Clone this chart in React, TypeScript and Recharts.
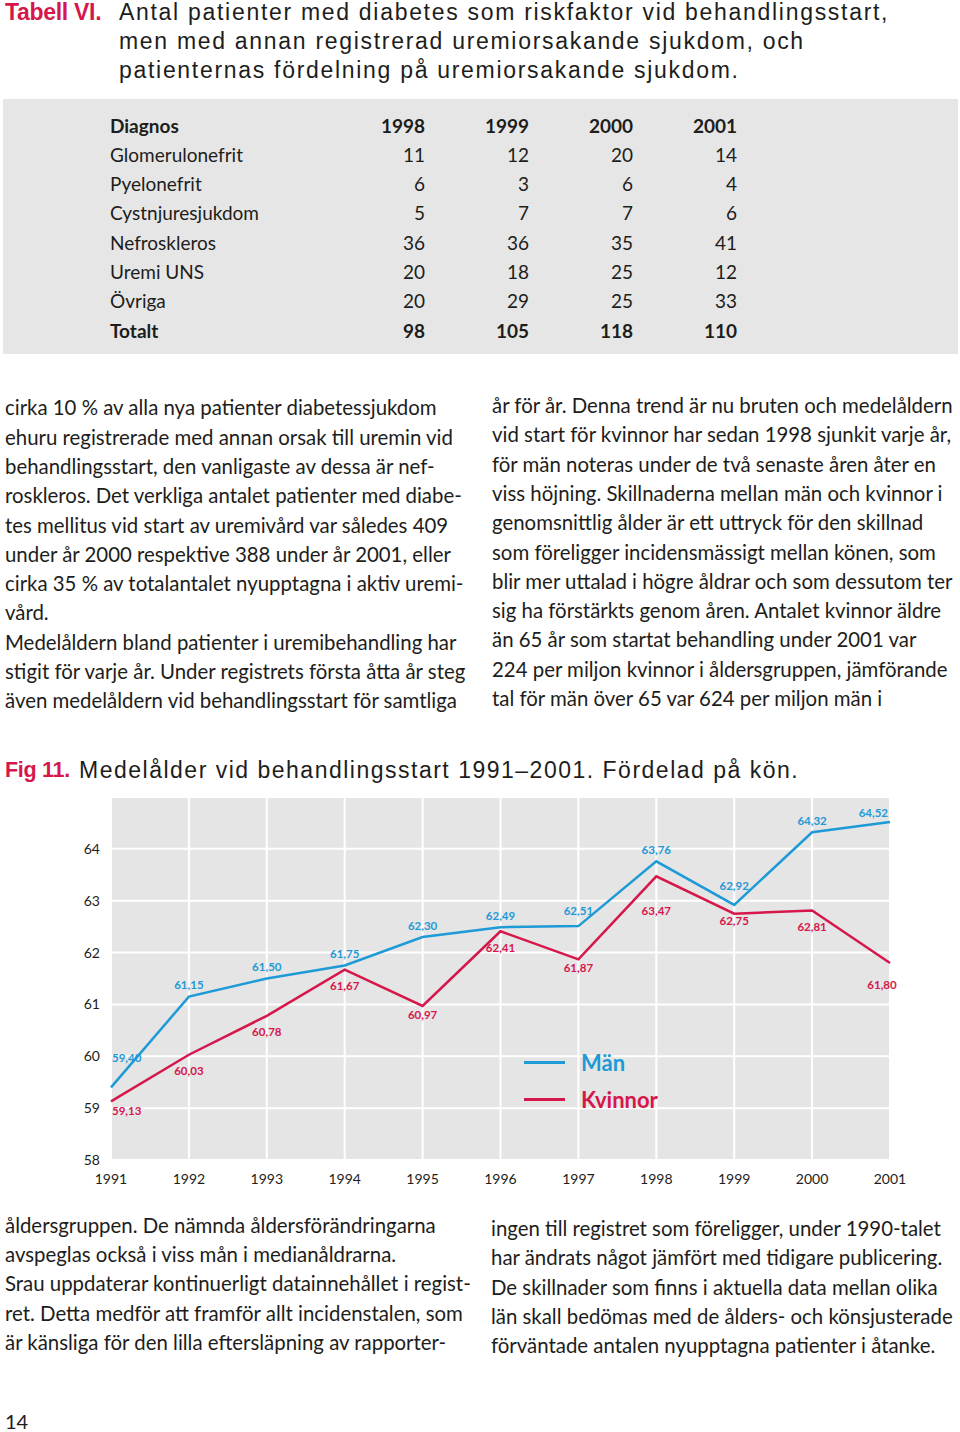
import React from 'react';
import { LineChart, Line, XAxis, YAxis, CartesianGrid, LabelList, Legend } from 'recharts';

// ---------- data ----------
const years = [1991, 1992, 1993, 1994, 1995, 1996, 1997, 1998, 1999, 2000, 2001];
const men = [59.4, 61.15, 61.5, 61.75, 62.3, 62.49, 62.51, 63.76, 62.92, 64.32, 64.52];
const women = [59.13, 60.03, 60.78, 61.67, 60.97, 62.41, 61.87, 63.47, 62.75, 62.81, 61.8];
const yTicks = [58, 59, 60, 61, 62, 63, 64];
const seriesNames = ['Män', 'Kvinnor'];

const tableHeader = ['Diagnos', '1998', '1999', '2000', '2001'];
const diagnoses = ['Glomerulonefrit', 'Pyelonefrit', 'Cystnjuresjukdom', 'Nefroskleros', 'Uremi UNS', 'Övriga'];
const diagnosisCounts = [
  [11, 12, 20, 14],
  [6, 3, 6, 4],
  [5, 7, 7, 6],
  [36, 36, 35, 41],
  [20, 18, 25, 12],
  [20, 29, 25, 33],
];
const totalLabel = 'Totalt';
const totals = [98, 105, 118, 110];

const tableTitleLines = [
  'Antal patienter med diabetes som riskfaktor vid behandlingsstart,',
  'men med annan registrerad uremiorsakande sjukdom, och',
  'patienternas fördelning på uremiorsakande sjukdom.',
];
const leftText1 = [
  'cirka 10 % av alla nya patienter diabetessjukdom',
  'ehuru registrerade med annan orsak till uremin vid',
  'behandlingsstart, den vanligaste av dessa är nef-',
  'roskleros. Det verkliga antalet patienter med diabe-',
  'tes mellitus vid start av uremivård var således 409',
  'under år 2000 respektive 388 under år 2001, eller',
  'cirka 35 % av totalantalet nyupptagna i aktiv uremi-',
  'vård.',
  'Medelåldern bland patienter i uremibehandling har',
  'stigit för varje år. Under registrets första åtta år steg',
  'även medelåldern vid behandlingsstart för samtliga',
];
const rightText1 = [
  'år för år. Denna trend är nu bruten och medelåldern',
  'vid start för kvinnor har sedan 1998 sjunkit varje år,',
  'för män noteras under de två senaste åren åter en',
  'viss höjning. Skillnaderna mellan män och kvinnor i',
  'genomsnittlig ålder är ett uttryck för den skillnad',
  'som föreligger incidensmässigt mellan könen, som',
  'blir mer uttalad i högre åldrar och som dessutom ter',
  'sig ha förstärkts genom åren. Antalet kvinnor äldre',
  'än 65 år som startat behandling under 2001 var',
  '224 per miljon kvinnor i åldersgruppen, jämförande',
  'tal för män över 65 var 624 per miljon män i',
];
const leftText2 = [
  'åldersgruppen. De nämnda åldersförändringarna',
  'avspeglas också i viss mån i medianåldrarna.',
  'Srau uppdaterar kontinuerligt datainnehållet i regist-',
  'ret. Detta medför att framför allt incidenstalen, som',
  'är känsliga för den lilla eftersläpning av rapporter-',
];
const rightText2 = [
  'ingen till registret som föreligger, under 1990-talet',
  'har ändrats något jämfört med tidigare publicering.',
  'De skillnader som finns i aktuella data mellan olika',
  'län skall bedömas med de ålders- och könsjusterade',
  'förväntade antalen nyupptagna patienter i åtanke.',
];
const figLabel = 'Fig 11.';
const figTitle = 'Medelålder vid behandlingsstart 1991–2001. Fördelad på kön.';
const tableLabel = 'Tabell VI.';
const pageNumber = '14';

// ---------- styles ----------
const BLUE = '#1e9ad6';
const RED = '#d6174b';
const TEXT = '#1d1d1b';
const BODY_FONT = 'Lato, "Open Sans", sans-serif';
const TITLE_FONT = '"Liberation Sans", Arial, sans-serif';
const BODY_SIZE = 20.4;

const chartData = years.map((y, i) => ({ year: y, men: men[i], women: women[i] }));
const fmt = (v: number) => v.toFixed(2).replace('.', ',');

const lineStyle = (top: number, left: number, size = BODY_SIZE): React.CSSProperties => ({
  position: 'absolute',
  left,
  top: top - 12,
  height: 24,
  lineHeight: '24px',
  fontSize: size,
  fontFamily: BODY_FONT,
  color: TEXT,
  whiteSpace: 'nowrap',
});

const TextBlock = ({ lines, left, tops }: { lines: string[]; left: number; tops: number[] }) => (
  <>
    {lines.map((l, i) => (
      <div key={i} style={lineStyle(tops[i], left)}>{l}</div>
    ))}
  </>
);

const blueOffsets: Record<number, number> = { 0: -30, 6: -16, 8: -19, 10: -9 };
const blueLabel = (props: any) => {
  const { value, index } = props;
  const x = props.x ?? props.viewBox?.x;
  const y = props.y ?? props.viewBox?.y;
  let anchor: 'middle' | 'start' | 'end' = 'middle';
  let dx = 0;
  const dy = blueOffsets[index] ?? -12;
  if (index === 0) { anchor = 'start'; dx = 1; }
  if (index === years.length - 1) { anchor = 'end'; dx = -2; }
  return (
    <text x={x + dx} y={y + dy} textAnchor={anchor} dominantBaseline="central"
      fill={BLUE} fontSize={11.5} fontWeight={700} fontFamily={BODY_FONT}>{fmt(value)}</text>
  );
};

const redOffsets: Record<number, number> = { 0: 9, 4: 9, 6: 8, 7: 34, 8: 7, 10: 22 };
const redLabel = (props: any) => {
  const { value, index } = props;
  const x = props.x ?? props.viewBox?.x;
  const y = props.y ?? props.viewBox?.y;
  let anchor: 'middle' | 'start' | 'end' = 'middle';
  let dx = 0;
  const dy = redOffsets[index] ?? 16;
  if (index === 0) { anchor = 'start'; dx = 1; }
  if (index === years.length - 1) { dx = -8; }
  return (
    <text x={x + dx} y={y + dy} textAnchor={anchor} dominantBaseline="central"
      fill={RED} fontSize={11.5} fontWeight={700} fontFamily={BODY_FONT}>{fmt(value)}</text>
  );
};

const legendContent = () => (
  <div style={{ fontFamily: BODY_FONT }}>
    {[BLUE, RED].map((c, i) => (
      <div key={i} style={{ display: 'flex', alignItems: 'center', height: 37 }}>
        <div style={{ width: 41, height: 2.5, background: c, marginRight: 16 }} />
        <span style={{ color: c, fontWeight: 700, fontSize: 22 }}>{seriesNames[i]}</span>
      </div>
    ))}
  </div>
);

export default function App() {
  const rowTops = [126, 155, 184, 213, 243, 272, 301, 331];
  const colRights = [425, 529, 633, 737];
  const cell = (top: number): React.CSSProperties => ({
    position: 'absolute', top: top - 14, height: 28, lineHeight: '28px', fontSize: 19,
    fontFamily: BODY_FONT, color: TEXT, whiteSpace: 'nowrap',
  });
  const titleStyle = (top: number, left: number): React.CSSProperties => ({
    position: 'absolute', left, top: top - 15, height: 30, lineHeight: '30px', fontSize: 23,
    fontFamily: TITLE_FONT, color: TEXT, whiteSpace: 'nowrap', letterSpacing: 1.7,
  });
  const redTitle = (top: number, size: number): React.CSSProperties => ({
    ...titleStyle(top, 5), color: RED, fontWeight: 700, letterSpacing: -0.3, fontSize: size,
  });

  return (
    <div style={{ position: 'absolute', left: 0, top: 0, width: 960, height: 1432, background: '#fff', overflow: 'hidden' }}>
      {/* Table title */}
      <div style={redTitle(12, 23)}>{tableLabel}</div>
      {tableTitleLines.map((l, i) => (
        <div key={i} style={titleStyle(12 + i * 29, 119)}>{l}</div>
      ))}

      {/* Table */}
      <div style={{ position: 'absolute', left: 3, top: 99, width: 955, height: 255, background: '#e6e6e6' }} />
      <div style={{ ...cell(rowTops[0]), left: 110, fontWeight: 700 }}>{tableHeader[0]}</div>
      {tableHeader.slice(1).map((h, j) => (
        <div key={h} style={{ ...cell(rowTops[0]), right: 960 - colRights[j], fontWeight: 700 }}>{h}</div>
      ))}
      {diagnoses.map((d, i) => (
        <React.Fragment key={d}>
          <div style={{ ...cell(rowTops[i + 1]), left: 110 }}>{d}</div>
          {diagnosisCounts[i].map((v, j) => (
            <div key={j} style={{ ...cell(rowTops[i + 1]), right: 960 - colRights[j] }}>{v}</div>
          ))}
        </React.Fragment>
      ))}
      <div style={{ ...cell(rowTops[7]), left: 110, fontWeight: 700 }}>{totalLabel}</div>
      {totals.map((v, j) => (
        <div key={j} style={{ ...cell(rowTops[7]), right: 960 - colRights[j], fontWeight: 700 }}>{v}</div>
      ))}

      {/* Body text */}
      <TextBlock lines={leftText1} left={5} tops={[407, 437, 466, 495, 525, 554, 583, 612, 642, 671, 700]} />
      <TextBlock lines={rightText1} left={492} tops={[405, 434, 464, 493, 522, 552, 581, 610, 639, 669, 698]} />

      {/* Figure title */}
      <div style={redTitle(770, 21.5)}>{figLabel}</div>
      <div style={{ ...titleStyle(770, 79), letterSpacing: 1.5 }}>{figTitle}</div>

      {/* Chart */}
      <div style={{ position: 'absolute', left: 0, top: 780 }}>
        <LineChart width={960} height={420} data={chartData} margin={{ top: 17, right: 70, bottom: 10, left: 61 }}>
          <CartesianGrid fill="#e5e5e6" stroke="#ffffff" strokeWidth={2} />
          <XAxis dataKey="year" type="number" domain={[1991, 2001]} ticks={years} axisLine={false}
            tickLine={false} tickSize={0} tickMargin={14} height={30}
            tick={{ fill: TEXT, fontSize: 14, fontFamily: BODY_FONT }} />
          <YAxis domain={[58, 65]} ticks={yTicks} axisLine={false} tickLine={false} tickSize={0}
            tickMargin={11} width={50} interval={0}
            tick={{ fill: TEXT, fontSize: 14, fontFamily: BODY_FONT }} />
          <Legend layout="vertical" align="center" verticalAlign="middle" content={legendContent}
            wrapperStyle={{ position: 'absolute', left: 524, top: 264, width: 220, height: 74 }} />
          <Line type="linear" dataKey="men" name={seriesNames[0]} stroke={BLUE} strokeWidth={2.5}
            dot={false} isAnimationActive={false}>
            <LabelList dataKey="men" content={blueLabel} />
          </Line>
          <Line type="linear" dataKey="women" name={seriesNames[1]} stroke={RED} strokeWidth={2.5}
            dot={false} isAnimationActive={false}>
            <LabelList dataKey="women" content={redLabel} />
          </Line>
        </LineChart>
      </div>

      {/* Bottom text */}
      <TextBlock lines={leftText2} left={5} tops={[1225, 1254, 1283, 1313, 1342]} />
      <TextBlock lines={rightText2} left={491} tops={[1228, 1257, 1287, 1316, 1345]} />

      <div style={{ ...lineStyle(1421, 5, 20), height: 20, lineHeight: '20px', top: 1411 }}>{pageNumber}</div>
    </div>
  );
}
